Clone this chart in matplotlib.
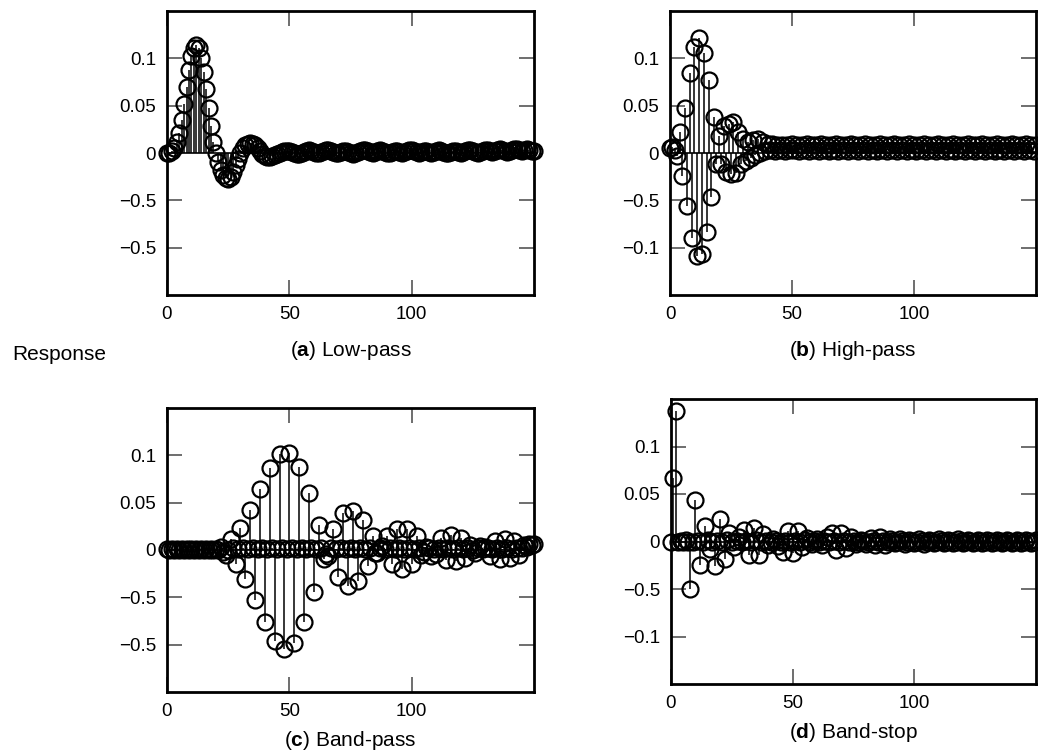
import numpy as np
import matplotlib.pyplot as plt

plt.rcParams['font.family'] = ['Liberation Sans', 'DejaVu Sans']
plt.rcParams['mathtext.fontset'] = 'custom'
plt.rcParams['mathtext.rm'] = 'Liberation Sans'
plt.rcParams['mathtext.bf'] = 'Liberation Sans:bold'

n = np.arange(151)

# impulse responses, n = 0..150
lowpass = [
    0.000, 0.000, 0.002, 0.005, 0.012, 0.021, 0.035, 0.052, 0.070, 0.088,
    0.102, 0.111, 0.114, 0.111, 0.100, 0.086, 0.068, 0.048, 0.028, 0.012,
    0.000, -0.010, -0.018, -0.023, -0.026, -0.027, -0.025, -0.020, -0.013, -0.006,
    0.000, 0.005, 0.008, 0.010, 0.011, 0.010, 0.008, 0.005, 0.002, -0.001,
    -0.003, -0.004, -0.004, -0.003, -0.002, -0.001, 0.000, 0.001, 0.002, 0.002,
    0.002, 0.001, 0.000, -0.001, -0.001, 0.000, 0.001, 0.002, 0.003, 0.002,
    0.001, 0.000, 0.000, 0.001, 0.002, 0.003, 0.003, 0.002, 0.001, 0.000,
    0.000, 0.001, 0.002, 0.002, 0.001, 0.000, -0.001, 0.000, 0.001, 0.002,
    0.003, 0.003, 0.002, 0.001, 0.000, 0.001, 0.002, 0.003, 0.002, 0.001,
    0.000, 0.000, 0.001, 0.002, 0.002, 0.001, 0.000, 0.001, 0.002, 0.003,
    0.003, 0.002, 0.001, 0.000, 0.001, 0.002, 0.002, 0.001, 0.000, 0.001,
    0.002, 0.003, 0.002, 0.001, 0.000, 0.000, 0.001, 0.002, 0.002, 0.001,
    0.000, 0.001, 0.002, 0.003, 0.003, 0.002, 0.001, 0.000, 0.001, 0.002,
    0.003, 0.003, 0.002, 0.001, 0.002, 0.003, 0.004, 0.003, 0.002, 0.001,
    0.002, 0.003, 0.004, 0.004, 0.003, 0.002, 0.003, 0.004, 0.003, 0.002,
    0.002,
]

highpass = [
    0.005, 0.006, 0.003, -0.003, 0.022, -0.024, 0.048, -0.056, 0.084, -0.090,
    0.112, -0.109, 0.121, -0.107, 0.106, -0.083, 0.077, -0.047, 0.038, -0.012,
    0.018, -0.012, 0.028, -0.020, 0.031, -0.022, 0.033, -0.021, 0.022, -0.012,
    0.015, -0.008, 0.012, -0.005, 0.014, -0.002, 0.015, 0.000, 0.012, 0.002,
    0.010, 0.003, 0.009, 0.002, 0.008, 0.003, 0.008, 0.002, 0.008, 0.003,
    0.009, 0.003, 0.008, 0.002, 0.008, 0.003, 0.009, 0.002, 0.008, 0.003,
    0.008, 0.002, 0.009, 0.003, 0.008, 0.002, 0.008, 0.003, 0.009, 0.002,
    0.008, 0.003, 0.008, 0.002, 0.009, 0.003, 0.008, 0.002, 0.008, 0.003,
    0.009, 0.002, 0.008, 0.003, 0.008, 0.002, 0.009, 0.003, 0.008, 0.002,
    0.008, 0.003, 0.009, 0.002, 0.008, 0.003, 0.008, 0.002, 0.009, 0.003,
    0.008, 0.002, 0.008, 0.003, 0.009, 0.002, 0.008, 0.003, 0.008, 0.002,
    0.009, 0.003, 0.008, 0.002, 0.008, 0.003, 0.009, 0.002, 0.008, 0.003,
    0.008, 0.002, 0.009, 0.003, 0.008, 0.002, 0.008, 0.003, 0.009, 0.002,
    0.008, 0.003, 0.008, 0.002, 0.009, 0.003, 0.008, 0.002, 0.008, 0.003,
    0.009, 0.002, 0.008, 0.003, 0.008, 0.002, 0.009, 0.003, 0.008, 0.002,
    0.008,
]

bandpass = [
    0.001, 0.000, 0.001, 0.000, 0.001, 0.000, 0.001, 0.000, 0.001, 0.000,
    0.001, 0.000, 0.001, 0.000, 0.001, 0.000, 0.001, 0.000, 0.001, 0.000,
    0.001, 0.000, 0.003, -0.002, -0.005, 0.000, 0.012, 0.002, -0.015, 0.001,
    0.023, 0.002, -0.031, 0.001, 0.042, 0.002, -0.053, 0.001, 0.064, 0.002,
    -0.076, 0.001, 0.087, 0.002, -0.096, 0.001, 0.101, 0.002, -0.105, 0.001,
    0.102, 0.002, -0.098, 0.001, 0.088, 0.002, -0.076, 0.001, 0.060, 0.002,
    -0.044, 0.001, 0.026, 0.002, -0.010, -0.004, -0.006, 0.002, 0.022, 0.001,
    -0.028, 0.002, 0.039, 0.001, -0.038, 0.002, 0.041, 0.001, -0.033, 0.002,
    0.032, 0.001, -0.017, 0.002, 0.015, -0.003, -0.003, 0.002, 0.004, 0.001,
    0.015, 0.002, -0.015, 0.001, 0.022, 0.002, -0.020, 0.001, 0.022, 0.002,
    -0.015, 0.001, 0.015, 0.002, -0.005, -0.002, 0.003, 0.002, -0.006, 0.001,
    -0.004, 0.002, 0.013, 0.001, -0.011, 0.002, 0.016, 0.001, -0.012, 0.002,
    0.013, 0.001, -0.008, 0.002, 0.005, 0.000, -0.003, 0.002, 0.004, 0.001,
    0.003, 0.002, -0.006, 0.001, 0.010, 0.002, -0.010, 0.001, 0.012, 0.002,
    -0.008, 0.001, 0.010, 0.002, -0.005, 0.002, 0.005, 0.003, 0.006, 0.005,
    0.006,
]

bandstop = [
    0.000, 0.067, 0.1375, 0.000, 0.001, 0.000, 0.002, 0.000, -0.050, 0.000,
    0.044, 0.001, -0.025, 0.000, 0.016, 0.002, -0.008, 0.000, -0.026, 0.001,
    0.024, 0.000, -0.018, 0.002, 0.009, 0.000, -0.006, 0.001, 0.005, 0.000,
    0.012, 0.001, -0.014, 0.000, 0.014, 0.002, -0.014, 0.000, 0.008, 0.001,
    -0.004, 0.000, 0.003, 0.001, -0.005, 0.000, -0.011, 0.001, 0.011, 0.000,
    -0.012, 0.001, 0.011, 0.000, -0.006, 0.002, 0.004, 0.000, -0.003, 0.001,
    0.003, 0.000, -0.004, 0.001, 0.005, 0.000, 0.009, 0.001, -0.009, 0.000,
    0.009, 0.001, -0.007, 0.000, 0.005, 0.001, -0.003, 0.000, 0.002, 0.001,
    -0.003, 0.000, 0.004, 0.001, -0.004, 0.000, 0.005, 0.001, -0.004, 0.000,
    0.003, 0.001, -0.002, 0.000, 0.003, 0.001, -0.003, 0.000, 0.002, 0.001,
    -0.002, 0.000, 0.003, 0.001, -0.003, 0.000, 0.002, 0.001, -0.002, 0.000,
    0.003, 0.001, -0.002, 0.000, 0.002, 0.001, -0.002, 0.000, 0.003, 0.001,
    -0.002, 0.000, 0.002, 0.001, -0.002, 0.000, 0.002, 0.001, -0.002, 0.000,
    0.002, 0.001, -0.002, 0.000, 0.002, 0.001, -0.002, 0.000, 0.002, 0.001,
    -0.002, 0.000, 0.002, 0.001, -0.002, 0.000, 0.002, 0.001, -0.002, 0.000,
    0.002,
]

captions = ['a', 'b', 'c', 'd']
names = ['Low-pass', 'High-pass', 'Band-pass', 'Band-stop']
series = [lowpass, highpass, bandpass, bandstop]

yticks = [0.1, 0.05, 0, -0.05, -0.1]
# the printed labels (kept as in the original figure)
ylabels = [
    ['0.1', '0.05', '0', '\u22120.5', '\u22120.5'],
    ['0.1', '0.05', '0', '\u22120.5', '\u22120.1'],
    ['0.1', '0.05', '0', '\u22120.5', '\u22120.5'],
    ['0.1', '0.05', '0', '\u22120.5', '\u22120.1'],
]
xticks = [0, 50, 100]

W, H = 1038, 753
# axes boxes in pixels: left, top, right, bottom
boxes = [(167, 11, 534, 295), (670, 11, 1036, 295),
         (167, 408, 534, 692), (671, 399, 1036, 684)]
cap_y = [351, 351, 740, 733]

fig = plt.figure(figsize=(W / 100, H / 100), dpi=100)

for i in range(4):
    l, t, r, b = boxes[i]
    ax = fig.add_axes([l / W, 1 - b / H, (r - l) / W, (b - t) / H])
    ml, sl, bl = ax.stem(n, series[i], linefmt='k-', markerfmt='ko', basefmt='k-')
    plt.setp(sl, linewidth=1.1)
    plt.setp(bl, linewidth=1.2)
    plt.setp(ml, markerfacecolor='none', markeredgecolor='k', markersize=11.5,
             markeredgewidth=1.6, clip_on=False, zorder=3)
    ax.set_xlim(0, 150)
    ax.set_ylim(-0.15, 0.15)
    ax.set_xticks(xticks)
    ax.set_yticks(yticks)
    ax.set_yticklabels(ylabels[i])
    ax.tick_params(direction='in', length=11, width=1.2, color='#555555',
                   top=True, right=True, labelsize=13.5, pad=8)
    for sp in ax.spines.values():
        sp.set_linewidth(2.0)
        sp.set_color('black')
    cx = (l + r) / 2
    fig.text(cx / W, 1 - cap_y[i] / H,
             r'($\mathbf{%s}$) %s' % (captions[i], names[i]),
             ha='center', va='center', fontsize=15)

fig.text(12 / W, 1 - 355 / H, 'Response', ha='left', va='center', fontsize=15)

fig.savefig('out.png', dpi=100)
